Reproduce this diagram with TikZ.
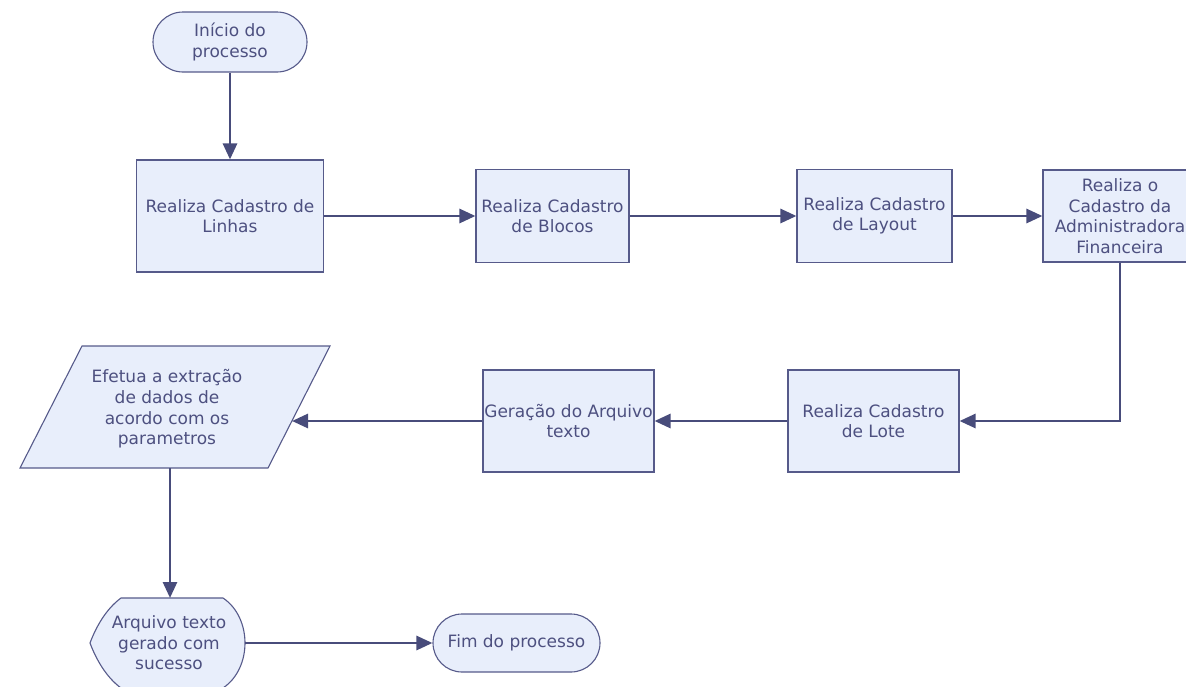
\documentclass[tikz,border=0pt]{standalone}
\usepackage{fontspec}
\setmainfont{DejaVu Sans}
\usetikzlibrary{arrows.meta}
\definecolor{fillc}{HTML}{E8EEFB}
\definecolor{edgec}{HTML}{565A8A}
\definecolor{linkc}{HTML}{484C7B}
\definecolor{textc}{HTML}{4D5080}
\tikzset{
  txt/.style={text=textc, align=center, inner sep=0pt, font=\fontsize{17}{20.6}\selectfont},
  boxnode/.style={txt, draw=edgec, fill=fillc, line width=1.1pt, rectangle},
  shapeline/.style={draw=edgec, fill=fillc, line width=1.1pt},
  link/.style={draw=linkc, line width=2.8pt, -{Triangle[length=16pt,width=14pt]}},
}
\begin{document}
\begin{tikzpicture}[x=1pt,y=-1pt]
\useasboundingbox (0,0) rectangle (1186,686);
% terminals
\node[boxnode, minimum width=154pt, minimum height=60pt, rounded corners=30pt] (start) at (230,42) {Início do\\processo};
\node[boxnode, minimum width=167pt, minimum height=58pt, rounded corners=29pt] (fim) at (516.5,643) {Fim do processo};
% process boxes
\node[boxnode, minimum width=187pt, minimum height=112pt] (b1) at (230,216) {Realiza Cadastro de\\Linhas};
\node[boxnode, minimum width=153pt, minimum height=93pt] (b2) at (552.5,216) {Realiza Cadastro\\de Blocos};
\node[boxnode, minimum width=155pt, minimum height=93pt] (b3) at (874.5,216) {Realiza Cadastro\\de Layout};
\node[boxnode, minimum width=154pt, minimum height=92pt] (b4) at (1120,216) {Realiza o\\Cadastro da\\Administradora\\Financeira};
\node[boxnode, minimum width=171pt, minimum height=102pt] (b5) at (873.5,421) {Realiza Cadastro\\de Lote};
\node[boxnode, minimum width=171pt, minimum height=102pt] (b6) at (568.5,421) {Geração do Arquivo\\texto};
% parallelogram
\path[shapeline] (82,346) -- (330,346) -- (268,468) -- (20,468) -- cycle;
\node[txt] (para) at (167,409) {Efetua a extração\\de dados de\\acordo com os\\parametros};
\coordinate (paraR) at (292,421);
\coordinate (paraB) at (170,468);
% display shape
\path[shapeline] (90,643) .. controls (96,627) and (106,609) .. (121,598) -- (223,598)
  .. controls (238,608) and (245,626) .. (245,643)
  .. controls (245,660) and (238,678) .. (223,688) -- (121,688)
  .. controls (106,677) and (96,659) .. (90,643) -- cycle;
\node[txt] (disp) at (169,643) {Arquivo texto\\gerado com\\sucesso};
\coordinate (dispT) at (170,598);
\coordinate (dispR) at (245,643);
% connectors
\draw[link] (start.south) -- (b1.north);
\draw[link] (b1.east) -- (b2.west);
\draw[link] (b2.east) -- (b3.west);
\draw[link] (b3.east) -- (b4.west);
\draw[link] (b4.south) |- (b5.east);
\draw[link] (b5.west) -- (b6.east);
\draw[link] (b6.west) -- (paraR);
\draw[link] (paraB) -- (dispT);
\draw[link] (dispR) -- (fim.west);
\end{tikzpicture}
\end{document}
